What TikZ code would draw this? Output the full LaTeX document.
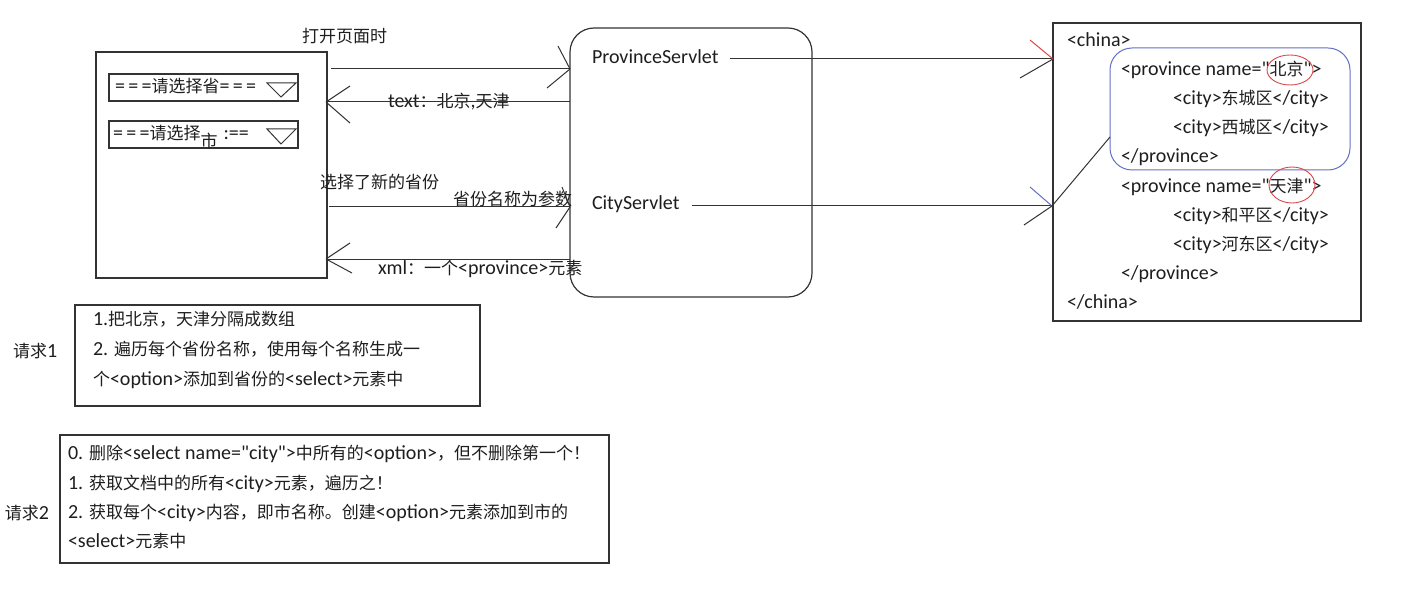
\documentclass[tikz,border=0pt]{standalone}
\usepackage{fontspec}
\setmainfont{Carlito}
\newfontfamily\latf{Carlito}
\newfontfamily\cjkf{Noto Sans CJK SC}
\newcommand\cjksw{\cjkf\fontsize{17}{24}\selectfont}
\newcommand\latsw{\latf\fontsize{20}{24}\selectfont}
\XeTeXinterchartokenstate=1
\chardef\CJKcls=7
\newcount\cjkc
\newcommand\setcjkrange[2]{\cjkc=#1\relax\loop\XeTeXcharclass\cjkc=\CJKcls\relax\ifnum\cjkc<#2\advance\cjkc by 1\relax\repeat}
\setcjkrange{"3000}{"303F}
\setcjkrange{"4E00}{"9FFF}
\setcjkrange{"FF00}{"FFEF}
\XeTeXinterchartoks 0 \CJKcls = {\cjksw}
\XeTeXinterchartoks 4095 \CJKcls = {\cjksw}
\XeTeXinterchartoks \CJKcls 0 = {\latsw}
\XeTeXinterchartoks \CJKcls 4095 = {\latsw}
\definecolor{txt}{HTML}{1E1E1E}
\definecolor{linec}{HTML}{333333}
\definecolor{bluec}{HTML}{6470C8}
\definecolor{redc}{HTML}{D84848}
\begin{document}
\begin{tikzpicture}[x=1pt,y=-1pt,
  every node/.style={font=\latsw, text=txt, inner sep=0pt, outer sep=0pt},
  boxline/.style={draw=linec, line width=1.2pt},
  conn/.style={draw=linec, line width=1pt},
  lbl/.style={anchor=base west},
  frame/.style={boxline, anchor=north west}]
\useasboundingbox (0,0) rectangle (1422,601);
\fill[white] (0,0) rectangle (1422,601);

% page with selects
\node[frame, minimum width=231pt, minimum height=226pt] (page) at (96,52) {};
\node[frame, minimum width=189pt, minimum height=27pt] (sel1) at (109,74) {};
\node[frame, minimum width=189pt, minimum height=27pt] (sel2) at (109,121) {};
\draw[conn] (267,83) -- (296,83) -- (281,97) -- cycle;
\draw[conn] (267,129) -- (296,129) -- (281,144) -- cycle;
\node[lbl] (sel1t) at (115,93) {=\,=\,=请选择省=\,=\,=};
\node[lbl] (sel2t) at (113,140) {=\,=\,=请选择\raisebox{-8pt}{市}\hspace{6pt}:==};

% servlet box
\node[frame, rounded corners=24pt, minimum width=242pt, minimum height=269pt] (srv) at (570,28) {};
\node[lbl] (ps) at (592,64) {ProvinceServlet};
\node[lbl] (cs) at (592,210) {CityServlet};

% xml box
\node[frame, minimum width=308pt, minimum height=298pt] (xml) at (1053,23) {};
\node[draw=bluec, line width=1pt, rounded corners=22pt, anchor=north west, minimum width=240pt, minimum height=122pt] (bj) at (1110,48) {};
\node[lbl] (x1) at (1067,47) {<china>};
\node[lbl] (x2) at (1121,76) {<province name="北京">};
\node[lbl] (x3) at (1173,105) {<city>东城区</city>};
\node[lbl] (x4) at (1173,134) {<city>西城区</city>};
\node[lbl] (x5) at (1121,163) {</province>};
\node[lbl] (x6) at (1121,193) {<province name="天津">};
\node[lbl] (x7) at (1173,222) {<city>和平区</city>};
\node[lbl] (x8) at (1173,251) {<city>河东区</city>};
\node[lbl] (x9) at (1121,280) {</province>};
\node[lbl] (x10) at (1067,309) {</china>};
\draw[redc, line width=0.9pt] (1290,70) ellipse [x radius=23, y radius=15];
\draw[redc, line width=0.9pt] (1292,185) ellipse [x radius=23, y radius=18];

% arrow labels
\node[lbl] (l1) at (302,43) {打开页面时};
\node[lbl] (l2) at (388,108) {text：北京,天津};
\node[lbl] (l3) at (320,189) {选择了新的省份};
\node[lbl] (l4) at (453,206) {省份名称为参数};
\node[lbl] (l5) at (378,275) {xml：一个<province>元素};

% arrows
\coordinate (a1s) at (331,69); \coordinate (a1e) at (570,69);
\draw[conn] (a1s) -- (a1e);
\draw[conn] (a1e) -- ++(-12,-23); \draw[conn] (a1e) -- ++(-23,19);
\coordinate (a2s) at (570,102); \coordinate (a2e) at (326,102);
\draw[conn] (a2s) -- (a2e);
\draw[conn] (a2e) -- ++(24,-16); \draw[conn] (a2e) -- ++(24,21);
\coordinate (a3s) at (329,207); \coordinate (a3e) at (570,207);
\draw[conn] (a3s) -- (a3e);
\draw[conn] (a3e) -- ++(-8,-20); \draw[conn] (a3e) -- ++(-14,21);
\coordinate (a4s) at (570,260); \coordinate (a4e) at (326,259);
\draw[conn] (a4s) -- (a4e |- a4s);
\draw[conn] (a4e) -- ++(24,-16); \draw[conn] (a4e) -- ++(26,14);
\coordinate (a5s) at (730,59); \coordinate (a5e) at (1053,59);
\draw[conn] (a5s) -- (a5e);
\draw[redc, line width=1pt] (a5e) -- ++(-23,-19); \draw[conn] (a5e) -- ++(-33,19);
\coordinate (a6s) at (692,206); \coordinate (a6e) at (1052,206);
\draw[conn] (a6s) -- (a6e);
\draw[bluec, line width=1pt] (a6e) -- ++(-22,-19); \draw[conn] (a6e) -- ++(-28,19);
\draw[conn] (a6e) -- (bj.west |- 0,137);

% request boxes
\node[frame, minimum width=405pt, minimum height=101pt] (r1) at (75,305) {};
\node[lbl] (r1a) at (93,326) {1.把北京，天津分隔成数组};
\node[lbl] (r1b) at (93,356) {2. 遍历每个省份名称，使用每个名称生成一};
\node[lbl] (r1c) at (93,386) {个<option>添加到省份的<select>元素中};
\node[lbl] (q1) at (13,358) {请求1};
\node[frame, minimum width=549pt, minimum height=128pt] (r2) at (60,435) {};
\node[lbl] (r2a) at (68,460) {0. 删除<select name="city">中所有的<option>，但不删除第一个！};
\node[lbl] (r2b) at (68,489) {1. 获取文档中的所有<city>元素，遍历之！};
\node[lbl] (r2c) at (68,518) {2. 获取每个<city>内容，即市名称。创建<option>元素添加到市的};
\node[lbl] (r2d) at (68,547) {<select>元素中};
\node[lbl] (q2) at (5,519) {请求2};
\end{tikzpicture}
\end{document}
